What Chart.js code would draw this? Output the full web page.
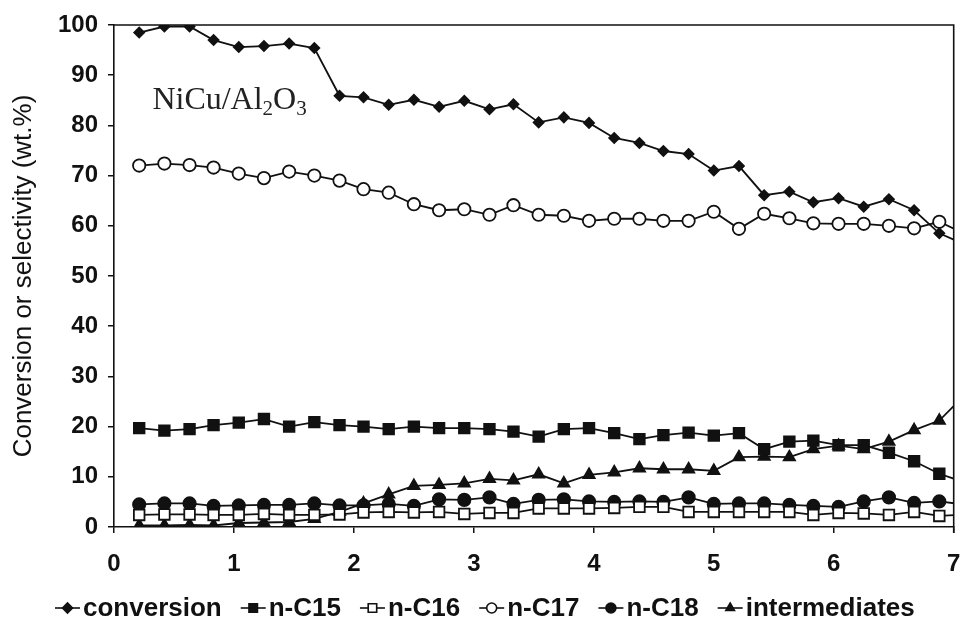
<!DOCTYPE html>
<html>
<head>
<meta charset="utf-8">
<script src="https://cdn.jsdelivr.net/npm/chart.js@4.4.1/dist/chart.umd.min.js"></script>
<style>
  html, body { margin: 0; padding: 0; background: #ffffff; }
  #wrap { width: 963px; height: 631px; }
</style>
</head>
<body>
<div id="wrap"><canvas id="chart" width="963" height="631"></canvas></div>
<script>
// Time on stream (h); samples every 12.5 min, last entry sits just past the axis end
const timeOnStream = [0.21, 0.42, 0.63, 0.83, 1.04, 1.25, 1.46, 1.67, 1.88, 2.08,
  2.29, 2.50, 2.71, 2.92, 3.13, 3.33, 3.54, 3.75, 3.96, 4.17,
  4.38, 4.58, 4.79, 5.00, 5.21, 5.42, 5.63, 5.83, 6.04, 6.25,
  6.46, 6.67, 6.88, 7.08];

const conversion = [98.5, 99.7, 99.7, 97.0, 95.6, 95.8, 96.3, 95.4, 85.9, 85.6,
  84.1, 85.1, 83.7, 84.9, 83.2, 84.2, 80.6, 81.6, 80.5, 77.5,
  76.5, 74.9, 74.3, 71.0, 71.9, 66.1, 66.8, 64.7, 65.5, 63.8,
  65.3, 63.1, 58.5, 56.4];

const nC15 = [19.7, 19.2, 19.5, 20.3, 20.8, 21.5, 20.0, 20.9, 20.3, 20.0,
  19.5, 20.0, 19.7, 19.7, 19.5, 19.0, 18.0, 19.5, 19.7, 18.7,
  17.5, 18.3, 18.8, 18.2, 18.7, 15.5, 17.0, 17.2, 16.3, 16.3,
  14.8, 13.1, 10.6, 9.0];

const nC16 = [2.4, 2.5, 2.5, 2.4, 2.4, 2.6, 2.4, 2.4, 2.5, 2.9,
  3.0, 2.9, 3.0, 2.6, 2.8, 2.8, 3.7, 3.7, 3.7, 3.8,
  4.0, 4.0, 3.0, 3.0, 3.0, 3.0, 3.0, 2.4, 2.8, 2.7,
  2.4, 3.0, 2.2, 2.5];

const nC17 = [72.0, 72.4, 72.1, 71.6, 70.4, 69.5, 70.8, 70.0, 69.0, 67.3,
  66.6, 64.3, 63.1, 63.3, 62.2, 64.1, 62.2, 62.0, 61.0, 61.4,
  61.4, 61.0, 61.0, 62.8, 59.4, 62.4, 61.5, 60.5, 60.4, 60.4,
  60.0, 59.5, 60.8, 58.5];

const nC18 = [4.5, 4.7, 4.7, 4.2, 4.3, 4.4, 4.4, 4.7, 4.3, 4.3,
  4.6, 4.2, 5.5, 5.4, 5.9, 4.6, 5.4, 5.5, 5.1, 5.0,
  5.1, 5.0, 5.9, 4.6, 4.7, 4.7, 4.4, 4.2, 4.0, 5.1,
  5.9, 4.8, 5.1, 4.5];

const intermediates = [0.3, 0.3, 0.4, 0.3, 0.8, 0.9, 1.0, 1.6, 3.0, 4.7,
  6.5, 8.2, 8.4, 8.7, 9.6, 9.3, 10.5, 8.7, 10.4, 10.9,
  11.7, 11.5, 11.5, 11.2, 13.9, 14.0, 13.9, 15.5, 16.2, 15.5,
  17.0, 19.3, 21.2, 26.0];

const seriesNames = ['conversion', 'n-C15', 'n-C16', 'n-C17', 'n-C18', 'intermediates'];
const xTickValues = [0, 1, 2, 3, 4, 5, 6, 7];
const yTickValues = [0, 10, 20, 30, 40, 50, 60, 70, 80, 90, 100];

const INK = '#111111';
const pairs = (ys) => ys.map((y, i) => ({ x: timeOnStream[i], y }));

// marker look per series: [pointStyle, radius, filled]
const markerStyles = [
  ['rectRot', 5, true],
  ['rect', 7.5, true],
  ['rect', 7.5, false],
  ['circle', 6.2, false],
  ['circle', 6.2, true],
  ['triangle', 6.5, true]
];
const seriesValues = [conversion, nC15, nC16, nC17, nC18, intermediates];

const datasets = seriesValues.map((vals, k) => {
  const [style, r, filled] = markerStyles[k];
  return {
    label: seriesNames[k],
    data: pairs(vals),
    borderColor: INK,
    borderWidth: 1.8,
    pointStyle: style,
    pointBackgroundColor: filled ? INK : '#ffffff',
    pointBorderColor: INK,
    pointBorderWidth: 1.8,
    pointRadius: (c) => (c.parsed && c.parsed.x > 7 ? 0 : r),
    pointHoverRadius: r,
    tension: 0,
    fill: false
  };
});

// box around the plot area (top and right edges)
const frame = {
  id: 'frame',
  afterDatasetsDraw(chart) {
    const { ctx, chartArea: a } = chart;
    ctx.save();
    ctx.strokeStyle = INK;
    ctx.lineWidth = 1.6;
    ctx.beginPath();
    ctx.moveTo(a.left, a.top);
    ctx.lineTo(a.right, a.top);
    ctx.lineTo(a.right, a.bottom + 6);
    ctx.stroke();
    ctx.restore();
  }
};

// catalyst name inside the plot
const catalystLabel = {
  id: 'catalystLabel',
  afterDraw(chart) {
    const { ctx } = chart;
    const x0 = chart.scales.x.getPixelForValue(0.32);
    const yb = chart.scales.y.getPixelForValue(83.2);
    const big = '32px "Liberation Serif", "Times New Roman", serif';
    const small = '21px "Liberation Serif", "Times New Roman", serif';
    const parts = [['NiCu/Al', big, 0], ['2', small, 6], ['O', big, 0], ['3', small, 6]];
    ctx.save();
    ctx.fillStyle = '#222222';
    ctx.textBaseline = 'alphabetic';
    ctx.textAlign = 'left';
    let x = x0;
    for (const [t, f, dy] of parts) {
      ctx.font = f;
      ctx.fillText(t, x, yb + dy);
      x += ctx.measureText(t).width;
    }
    ctx.restore();
  }
};

// legend row under the x axis: short line with the marker, then the name
const lineLegend = {
  id: 'lineLegend',
  afterDraw(chart) {
    const { ctx } = chart;
    const font = 'bold 26px "Liberation Sans", Arial, sans-serif';
    const sample = 25, gapText = 3, gapItem = 19;
    ctx.save();
    ctx.font = font;
    const widths = chart.data.datasets.map(d => ctx.measureText(d.label).width);
    let x = 55;
    const yc = 608;
    chart.data.datasets.forEach((d, k) => {
      const [style, , filled] = markerStyles[k];
      ctx.strokeStyle = INK;
      ctx.lineWidth = 1.6;
      ctx.beginPath();
      ctx.moveTo(x, yc);
      ctx.lineTo(x + sample, yc);
      ctx.stroke();
      ctx.fillStyle = filled ? INK : '#ffffff';
      Chart.helpers.drawPoint(ctx, {
        pointStyle: style,
        radius: style === 'rect' ? 6 : 5,
        borderWidth: 1.5
      }, x + sample / 2, yc);
      ctx.fillStyle = INK;
      ctx.textBaseline = 'middle';
      ctx.textAlign = 'left';
      ctx.font = font;
      ctx.fillText(d.label, x + sample + gapText, yc + 1);
      x += sample + gapText + widths[k] + gapItem;
    });
    ctx.restore();
  }
};

const tickFont = { family: '"Liberation Sans", Arial, sans-serif', size: 24, weight: 'bold' };

new Chart(document.getElementById('chart'), {
  type: 'line',
  data: { datasets },
  options: {
    responsive: false,
    animation: false,
    layout: { padding: { left: 0, right: 7, top: 25, bottom: 0 } },
    plugins: {
      legend: { display: false },
      tooltip: { enabled: false }
    },
    scales: {
      x: {
        type: 'linear',
        min: 0,
        max: 7,
        afterBuildTicks: (s) => { s.ticks = xTickValues.map(v => ({ value: v })); },
        afterFit: (s) => { s.height = 104; s.paddingLeft = 0; s.paddingRight = 0; },
        ticks: { color: INK, font: tickFont, padding: 17 },
        grid: { drawOnChartArea: false, drawTicks: true, tickLength: 6, color: INK, lineWidth: 1.5 },
        border: { color: INK, width: 1.6 }
      },
      y: {
        min: 0,
        max: 100,
        afterBuildTicks: (s) => { s.ticks = yTickValues.map(v => ({ value: v })); },
        afterFit: (s) => { s.width = 114; s.paddingTop = 0; s.paddingBottom = 0; },
        ticks: { color: INK, font: tickFont, padding: 10 },
        title: {
          display: true,
          text: 'Conversion or selectivity (wt.%)',
          color: INK,
          font: { family: '"Liberation Sans", Arial, sans-serif', size: 26 },
          padding: { top: 8, bottom: 6 }
        },
        grid: { drawOnChartArea: false, drawTicks: true, tickLength: 6, color: INK, lineWidth: 1.5 },
        border: { color: INK, width: 1.6 }
      }
    }
  },
  plugins: [frame, catalystLabel, lineLegend]
});
</script>
</body>
</html>
